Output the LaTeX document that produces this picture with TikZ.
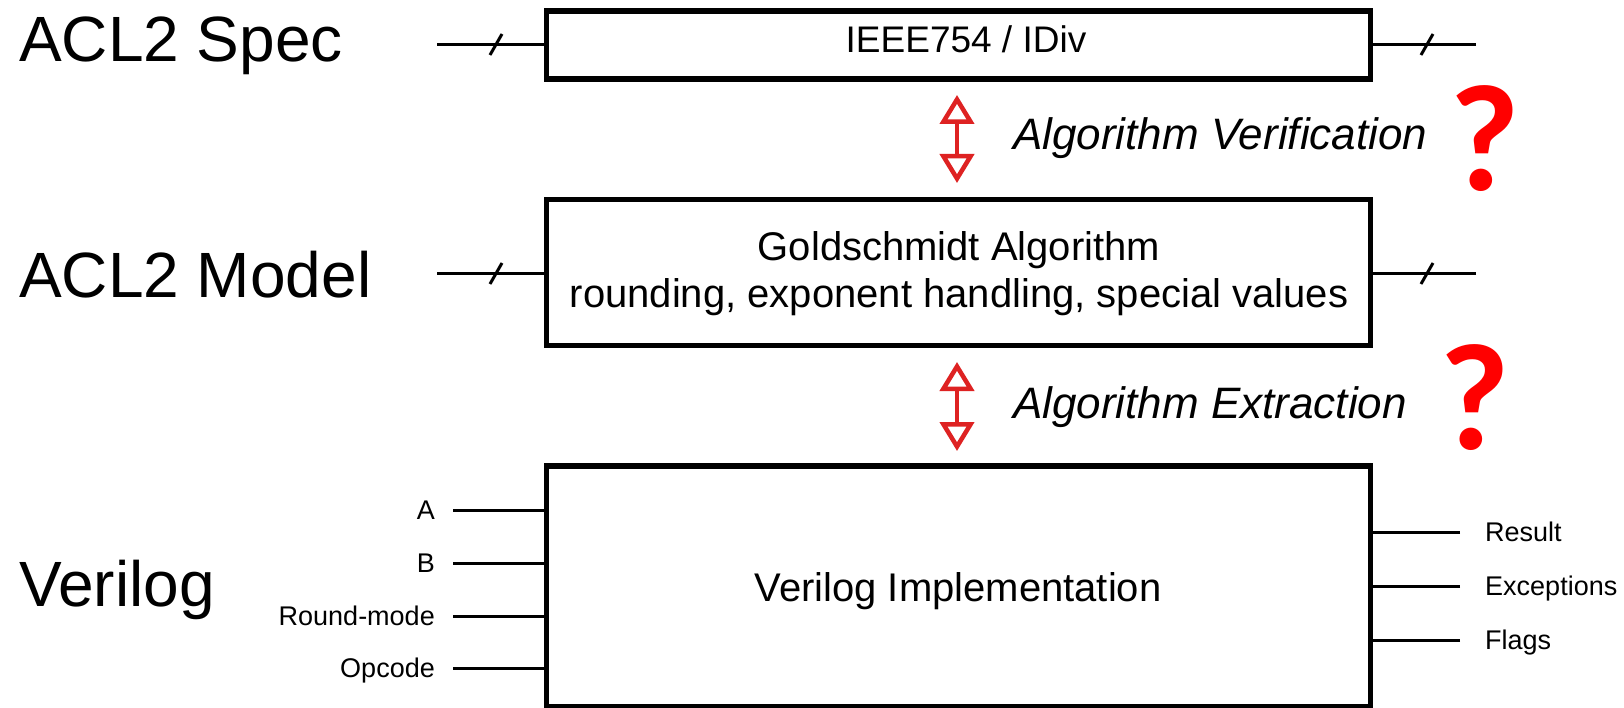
\documentclass[tikz,border=0pt]{standalone}
\usepackage{fontspec}
\setmainfont{Liberation Sans}
\newfontfamily\qfont{Carlito}
\usetikzlibrary{arrows.meta,calc}
\definecolor{arrowred}{RGB}{222,34,34}
\definecolor{qred}{RGB}{255,0,0}
\tikzset{
  box/.style={draw=black, line width=5.5pt, inner sep=0pt, minimum width=824pt},
  wire/.style={draw=black, line width=3pt},
  bigtxt/.style={inner sep=0pt, font=\fontsize{64}{70}\selectfont},
  midtxt/.style={inner sep=0pt, font=\fontsize{40}{47}\selectfont},
  pintxt/.style={inner sep=0pt, font=\fontsize{27}{30}\selectfont},
  ittxt/.style={inner sep=0pt, font=\fontsize{44}{50}\selectfont\itshape},
  qmark/.style={inner sep=0pt, text=qred, font=\fontsize{152}{160}\selectfont\qfont\bfseries},
  dbl/.style={draw=arrowred, line width=4.5pt,
    {Triangle[open,length=29pt,width=34pt]}-{Triangle[open,length=29pt,width=34pt]}}
}
\begin{document}
\begin{tikzpicture}[x=1pt,y=-1pt]
\useasboundingbox (0,0) rectangle (1624,708);
\fill[white] (0,0) rectangle (1624,708);

% boxes
\node[box, minimum height=68pt] (spec) at (958.5,45) {};
\node[box, minimum height=146pt] (model) at (958.5,272.5) {};
\node[box, minimum height=241pt] (veri) at (958.5,586.5) {};

% box texts
\node[inner sep=0pt, anchor=base, font=\fontsize{37}{42}\selectfont] (spect) at (966,53) {IEEE754 / IDiv};
\node[midtxt, anchor=base] (modt1) at (959,261) {Goldschmidt Algorithm};
\node[midtxt, anchor=base] (modt2) at (959,308) {rounding, exponent handling, special values};
\node[midtxt, anchor=base] (verit) at (958,601) {Verilog Implementation};

% level labels
\node[bigtxt, anchor=base west] (lspec) at (19,62) {ACL2 Spec};
\node[bigtxt, anchor=base west] (lmodel) at (19,298) {ACL2 Model};
\node[bigtxt, anchor=base west] (lveri) at (19,606) {Verilog};

% bus lines with slashes
\coordinate (sl) at (437,45);
\coordinate (sr) at (1476,45);
\coordinate (ml) at (437,274);
\coordinate (mr) at (1476,274);
\draw[wire] (sl) -- (sl -| spec.west);
\draw[wire] (sr) -- (sr -| spec.east);
\draw[wire] (ml) -- (ml -| model.west);
\draw[wire] (mr) -- (mr -| model.east);
\draw[wire] (490,55) -- (502,34);
\draw[wire] (1421,55) -- (1433,34);
\draw[wire] (490,284) -- (502,263);
\draw[wire] (1421,284) -- (1433,263);

% double arrows
\coordinate (a1t) at (957,95);
\coordinate (a1b) at (957,183);
\coordinate (a2t) at (957,362);
\coordinate (a2b) at (957,451);
\draw[dbl] (a1t) -- (a1b);
\draw[dbl] (a2t) -- (a2b);

\node[ittxt, anchor=base west] (av) at (1013,150) {Algorithm Verification};
\node[ittxt, anchor=base west] (ae) at (1013,418) {Algorithm Extraction};

\node[qmark] (q1) at (1485,139) {?};
\node[qmark] (q2) at (1475,398) {?};

% input pins
\coordinate (pA) at (453,510);
\coordinate (pB) at (453,563);
\coordinate (pR) at (453,616);
\coordinate (pO) at (453,668);
\draw[wire] (pA) -- (pA -| veri.west);
\draw[wire] (pB) -- (pB -| veri.west);
\draw[wire] (pR) -- (pR -| veri.west);
\draw[wire] (pO) -- (pO -| veri.west);
\node[pintxt, anchor=base east] (tA) at (435,519.5) {A};
\node[pintxt, anchor=base east] (tB) at (435,572.5) {B};
\node[pintxt, anchor=base east] (tR) at (435,625.5) {Round-mode};
\node[pintxt, anchor=base east] (tO) at (435,677.5) {Opcode};

% output pins
\coordinate (oR) at (1460,532);
\coordinate (oE) at (1460,586);
\coordinate (oF) at (1460,640);
\draw[wire] (oR) -- (oR -| veri.east);
\draw[wire] (oE) -- (oE -| veri.east);
\draw[wire] (oF) -- (oF -| veri.east);
\node[pintxt, anchor=base west] (tRes) at (1485,541.5) {Result};
\node[pintxt, anchor=base west] (tExc) at (1485,595.5) {Exceptions};
\node[pintxt, anchor=base west] (tFl) at (1485,649.5) {Flags};
\end{tikzpicture}
\end{document}
